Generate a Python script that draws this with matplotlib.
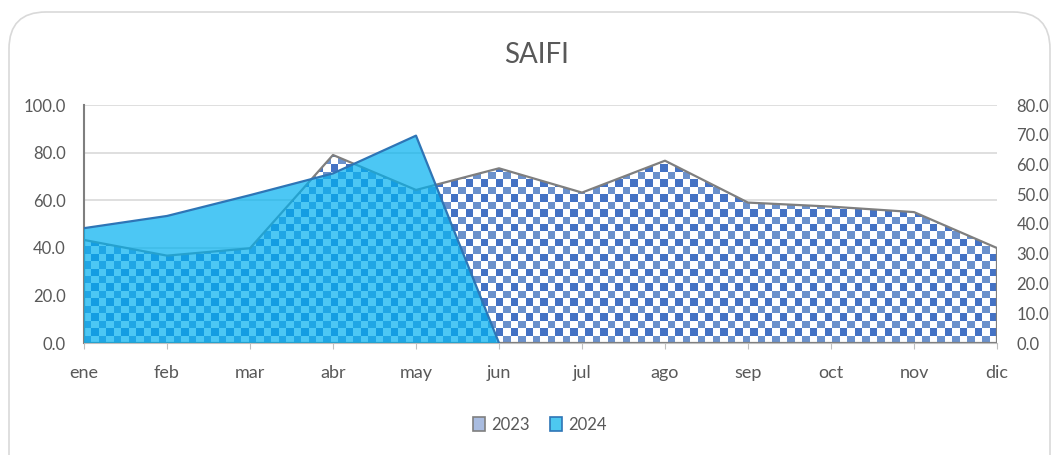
import numpy as np
import matplotlib
matplotlib.use("Agg")
import matplotlib.pyplot as plt
from matplotlib.patches import Patch, FancyBboxPatch

plt.rcParams['font.family'] = ['Lato', 'DejaVu Sans']

# datos
meses = ['ene', 'feb', 'mar', 'abr', 'may', 'jun', 'jul', 'ago', 'sep', 'oct', 'nov', 'dic']
saifi_2023 = [43.3, 36.7, 39.8, 79.0, 64.3, 73.4, 63.2, 76.6, 59.0, 57.3, 55.0, 39.9]   # eje izquierdo
saifi_2024 = [38.6, 42.7, 49.7, 57.0, 69.7, 0.0]   # eje derecho
ticks_izq = [0, 20, 40, 60, 80, 100]
ticks_der = [0, 10, 20, 30, 40, 50, 60, 70, 80]

gris = '#595959'
W, H = 1054, 455
fig = plt.figure(figsize=(W / 100, H / 100), dpi=100)

# marco redondeado
marco = FancyBboxPatch((9 / W, -0.1), (1050 - 9) / W, 1.1 - 12 / H,
                       boxstyle='round,pad=0,rounding_size=0.035',
                       transform=fig.transFigure, facecolor='none',
                       edgecolor='#D9D9D9', lw=1.2, mutation_aspect=W / H, zorder=-10)
fig.patches.append(marco)

ax = fig.add_axes([84 / W, 1 - 343 / H, (997 - 84) / W, (343 - 105) / H])
ax.patch.set_alpha(0)
x = np.arange(len(meses))

ax.set_ylim(0, 100)
ax.set_yticks(ticks_izq)
ax.set_yticklabels([f'{v:.1f}' for v in ticks_izq])
ax.yaxis.grid(True, color='#D9D9D9', lw=1.2)
ax.set_axisbelow(True)

# 2023: área con patrón de tablero
poly = ax.fill_between(x, 0, saifi_2023, facecolor='none', edgecolor='#7F7F7F',
                       lw=1.6, zorder=3)
nx, ny = 122, 32
jj, ii = np.meshgrid(np.arange(nx), np.arange(ny))
img = np.ones((ny, nx, 3))
azul = (jj + ii) % 2 == 1
oscuro = np.array([0.27, 0.45, 0.77])
claro = np.array([0.42, 0.57, 0.80])
img[azul & (ii % 2 == 0)] = oscuro
img[azul & (ii % 2 == 1)] = claro
im = ax.imshow(img, extent=(0, 11, 0, 100), aspect='auto',
               interpolation='nearest', zorder=2)
im.set_clip_path(poly.get_paths()[0], transform=ax.transData)
ax.set_xlim(0, 11)
ax.set_ylim(0, 100)

ax.set_xticks(x)
ax.set_xticklabels(meses)
ax.tick_params(axis='x', length=4, color='#BFBFBF', pad=12, labelsize=13, labelcolor=gris)
ax.tick_params(axis='y', length=0, pad=13, labelsize=12, labelcolor=gris)
for s in ['top', 'right']:
    ax.spines[s].set_visible(False)
ax.spines['left'].set_color('#7F7F7F')
ax.spines['left'].set_linewidth(1.5)
ax.spines['bottom'].set_color('#BFBFBF')

# 2024: eje secundario
ax2 = ax.twinx()
ax2.fill_between(x[:len(saifi_2024)], 0, saifi_2024, facecolor='#00B0F0', alpha=0.7,
                 edgecolor='none', zorder=2)
ax2.plot(x[:len(saifi_2024)], saifi_2024, color='#2E75B6', lw=1.6, zorder=3)
ax2.set_ylim(0, 80)
ax2.set_yticks(ticks_der)
ax2.set_yticklabels([f'{v:.1f}' for v in ticks_der])
ax2.tick_params(axis='y', length=0, pad=14, labelsize=12, labelcolor=gris)
for s in ax2.spines.values():
    s.set_visible(False)
ax.set_xlim(0, 11)

fig.text(537 / W, 1 - 55 / H, 'SAIFI', ha='center', va='center', fontsize=20, color=gris)

handles = [Patch(facecolor='#A9BCE0', edgecolor='#7F7F7F', lw=1.2),
           Patch(facecolor='#4DC8F0', edgecolor='#2E75B6', lw=1.2)]
fig.legend(handles, ['2023', '2024'], loc='center', bbox_to_anchor=(540 / W, 1 - 425 / H),
           ncol=2, frameon=False, fontsize=12, labelcolor=gris, handlelength=0.7,
           handleheight=0.9, handletextpad=0.4, columnspacing=1.2)

fig.savefig('out.png', dpi=100)
